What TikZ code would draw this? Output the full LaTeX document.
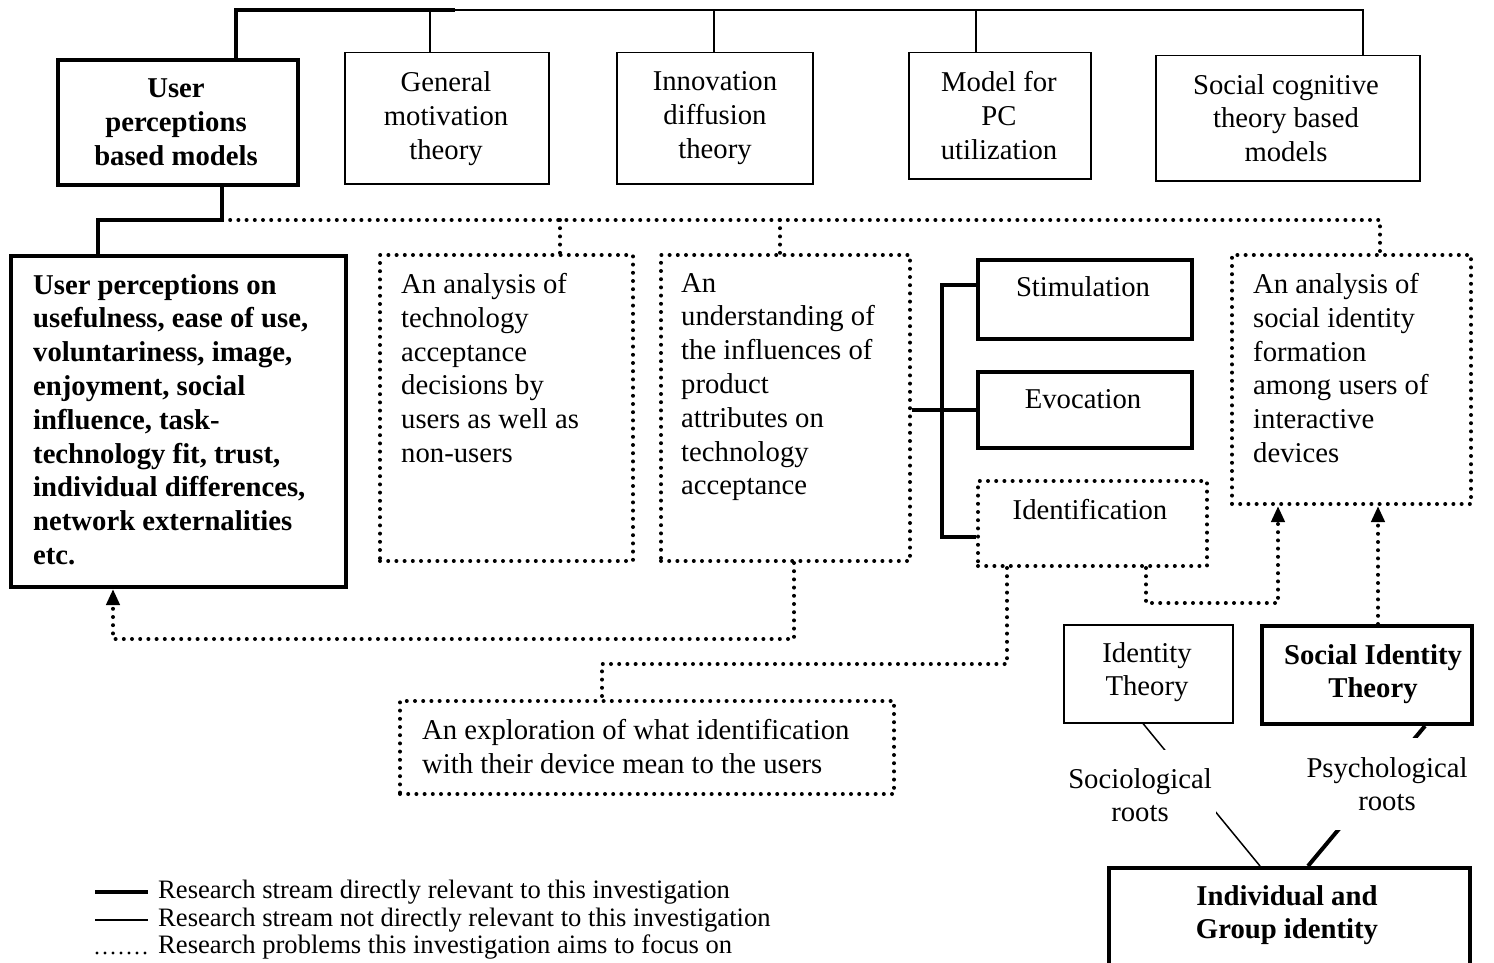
\documentclass[tikz,border=0pt]{standalone}
\usepackage{fontspec}
\setmainfont{Liberation Serif}
\usetikzlibrary{arrows.meta}
\begin{document}
\begin{tikzpicture}[x=1pt,y=-1pt,
  frame/.style={inner sep=0pt, anchor=north west},
  thickbox/.style={frame, draw, line width=4pt},
  thinbox/.style={frame, draw, line width=1.5pt},
  dotbox/.style={frame, draw, line width=4pt, dash pattern=on 0pt off 8.2pt, line cap=round},
  thickline/.style={line width=4pt},
  thinline/.style={line width=1.5pt},
  dotline/.style={line width=4pt, dash pattern=on 0pt off 8.2pt, line cap=round},
  arr/.style={-{Triangle[length=16pt,width=13pt]}},
  txt/.style={inner sep=0pt, font=\fontsize{28.7}{33.8}\selectfont},
  btxt/.style={inner sep=0pt, font=\fontsize{28.7}{33.8}\selectfont\bfseries},
  ctxt/.style={txt, align=center, anchor=north},
  ltxt/.style={txt, align=left, anchor=north west},
  legtxt/.style={inner sep=0pt, anchor=west, font=\fontsize{26.6}{30}\selectfont}
]
\useasboundingbox (0,0) rectangle (1494,963);
\clip (0,0) rectangle (1494,963);

% ---------- top row of theory boxes ----------
\node[thickbox, minimum width=240pt, minimum height=125pt] (upm) at (56,58) {};
\node[thinbox,  minimum width=204pt, minimum height=131pt] (gmt) at (344,52) {};
\node[thinbox,  minimum width=196pt, minimum height=131pt] (idt) at (616,52) {};
\node[thinbox,  minimum width=182pt, minimum height=126pt] (mpc) at (908,52) {};
\node[thinbox,  minimum width=264pt, minimum height=125pt] (sct) at (1155,55) {};

\node[btxt, align=center, anchor=north] (upmT) at (176,79) {User\\perceptions\\based models};
\node[ctxt] (gmtT) at (446,71.5) {General\\motivation\\theory};
\node[ctxt] (idtT) at (715,71.5) {Innovation\\diffusion\\theory};
\node[ctxt] (mpcT) at (999,71.5) {Model for\\PC\\utilization};
\node[ctxt] (sctT) at (1286,74) {Social cognitive\\theory based\\models};

% bus joining the top row
\coordinate (busA) at (236,10);
\coordinate (busB) at (455,10);
\coordinate (bus1) at (430,10);
\coordinate (bus2) at (714,10);
\coordinate (bus3) at (976,10);
\draw[thickline] (upm.north -| busA) -- (busA) -- (busB);
\draw[thinline] (busB) -| (sct.north -| 1363,0);
\draw[thinline] (bus1) -- (gmt.north -| bus1);
\draw[thinline] (bus2) -- (idt.north -| bus2);
\draw[thinline] (bus3) -- (mpc.north -| bus3);

% ---------- second row ----------
\node[thickbox, minimum width=335pt, minimum height=331pt] (box1) at (9,254) {};
\node[dotbox,   minimum width=253pt, minimum height=306pt] (box2) at (378,253) {};
\node[dotbox,   minimum width=249pt, minimum height=306pt] (box3) at (659,253) {};
\node[thickbox, minimum width=214pt, minimum height=79pt]  (stim) at (976,258) {};
\node[thickbox, minimum width=214pt, minimum height=76pt]  (evo)  at (976,370) {};
\node[dotbox,   minimum width=229pt, minimum height=85pt]  (idf)  at (976,479) {};
\node[dotbox,   minimum width=239pt, minimum height=249pt] (box5) at (1230,253) {};

\node[btxt, align=left, anchor=north west] (box1T) at (33,274)
  {User perceptions on\\usefulness, ease of use,\\voluntariness, image,\\enjoyment, social\\influence, task-\\technology fit, trust,\\individual differences,\\network externalities\\etc.};
\node[ltxt] (box2T) at (401,273) {An analysis of\\technology\\acceptance\\decisions by\\users as well as\\non-users};
\node[ltxt] (box3T) at (681,273) {An\\understanding of\\the influences of\\product\\attributes on\\technology\\acceptance};
\node[ctxt] (stimT) at (1083,276) {Stimulation};
\node[ctxt] (evoT)  at (1083,389) {Evocation};
\node[ctxt] (idfT)  at (1090,499) {Identification};
\node[ltxt] (box5T) at (1253,273) {An analysis of\\social identity\\formation\\among users of\\interactive\\devices};

% links from the perception-based models
\coordinate (j2) at (222,220);
\coordinate (d2) at (560,220);
\coordinate (d3) at (780,220);
\coordinate (d5) at (1380,220);
\draw[dotline] (j2) -- (d5) -- (box5.north -| d5);
\draw[dotline] (d2) -- (box2.north -| d2);
\draw[dotline] (d3) -- (box3.north -| d3);
\draw[thickline] (upm.south -| j2) -- (j2) -| (box1.north -| 98,0);

% product attributes bracket
\draw[thickline] (box3.east |- evo.west) -- (evo.west);
\draw[thickline] (stim.west |- 0,285) -| (942,537) -- (idf.west |- 0,537);

% ---------- lower part ----------
\node[dotbox, minimum width=494pt, minimum height=93pt] (expl) at (398,699) {};
\node[ltxt] (explT) at (422,719) {An exploration of what identification\\with their device mean to the users};

\node[thinbox,  minimum width=169pt, minimum height=98pt] (it)  at (1063,624) {};
\node[thickbox, minimum width=210pt, minimum height=98pt] (sit) at (1260,624) {};
\node[thickbox, minimum width=361pt, minimum height=134pt] (ind) at (1107,866) {};
\node[ctxt] (itT) at (1147,642) {Identity\\Theory};
\node[btxt, align=center, anchor=north] (sitT) at (1373,644) {Social Identity\\Theory};
\node[btxt, align=center, anchor=north] (indT) at (1287,885) {Individual and\\Group identity};

% dotted feedback links
\draw[dotline, arr] (box3.south -| 794,0) -- (794,639) -| (box1.south -| 113,0);
\draw[dotline] (idf.south -| 1007,0) -- (1007,664) -| (expl.north -| 602,0);
\draw[dotline, arr] (idf.south -| 1146,0) -- (1146,603) -| (box5.south -| 1278,0);
\draw[dotline, arr] (sit.north -| 1378,0) -- (box5.south -| 1378,0);

% roots of identity
\draw[thinline] (it.south -| 1143,0) -- (ind.north -| 1260,0);
\draw[thickline] (sit.south -| 1425,0) -- (ind.north -| 1308,0);
\node[txt, align=center, anchor=north, fill=white, inner ysep=18pt, inner xsep=4pt] (soc) at (1140,750) {Sociological\\roots};
\node[txt, align=center, anchor=north, fill=white, inner ysep=19pt, inner xsep=4pt] (psy) at (1387,738) {Psychological\\roots};

% ---------- legend ----------
\coordinate (l1a) at (95,892);  \coordinate (l1b) at (148,892);
\coordinate (l2a) at (95,920);  \coordinate (l2b) at (148,920);
\coordinate (l3a) at (97,953);  \coordinate (l3b) at (146,953);
\draw[thickline] (l1a) -- (l1b);
\draw[line width=1.2pt] (l2a) -- (l2b);
\draw[line width=3.2pt, dash pattern=on 0pt off 8pt, line cap=round] (l3a) -- (l3b);
\node[legtxt] (leg1) at (158,892) {Research stream directly relevant to this investigation};
\node[legtxt] (leg2) at (158,920) {Research stream not directly relevant to this investigation};
\node[legtxt] (leg3) at (158,947) {Research problems this investigation aims to focus on};
\end{tikzpicture}
\end{document}
